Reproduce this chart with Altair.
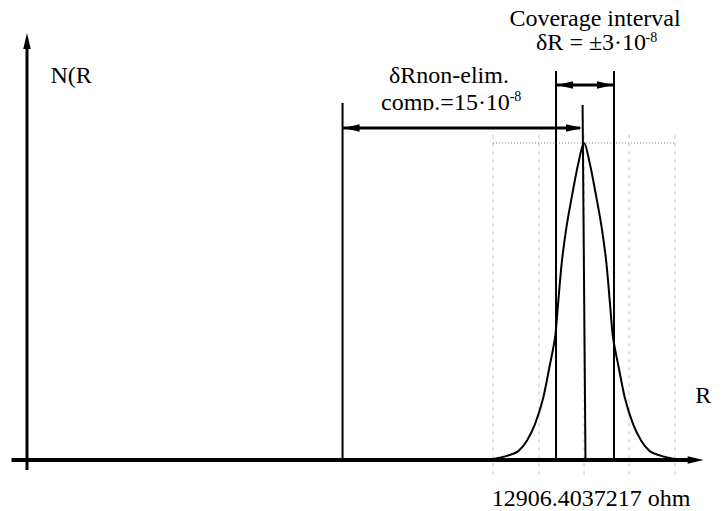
import altair as alt
import pandas as pd

# Schematic: x in units of 1e-8 relative deviation from the central value, y = relative density N(R)
X_DOMAIN = [-35.78, 8.01]
Y_DOMAIN = [-0.1609, 1.4259]

# distribution curve
curve_x = [-5.65, -4.80, -4.08, -3.56, -3.04, -2.53, -2.11, -1.91, -1.78, -1.60, -1.39, -1.12, -0.76, -0.35, 0.0,
           0.35, 0.76, 1.12, 1.39, 1.60, 1.78, 1.91, 2.11, 2.53, 3.04, 3.56, 4.08, 4.80, 5.65]
curve_y = [0.003, 0.013, 0.028, 0.060, 0.114, 0.197, 0.303, 0.354, 0.394, 0.500, 0.620, 0.725, 0.830, 0.937, 1.000,
           0.937, 0.830, 0.725, 0.620, 0.500, 0.394, 0.354, 0.303, 0.197, 0.114, 0.060, 0.028, 0.013, 0.003]

# solid segments: marker lines, arrow shafts, axes
seg_x = [-15.0, -1.74, 1.86, -0.09, -15.0, -1.74, -35.56, -34.60]
seg_x2 = [-15.0, -1.74, 1.86, 0.09, -0.25, 1.86, 6.71, -34.60]
seg_y = [0.0, 0.0, 0.0, 1.12, 1.047, 1.183, 0.0, -0.0315]
seg_y2 = [1.126, 1.227, 1.227, 0.0, 1.047, 1.183, 0.0, 1.309]
seg_w = [2, 2, 2, 2, 3, 3, 4, 3]

# arrow heads
head_x = [-34.60, 6.93, -14.44, -0.62, -1.18, 1.30]
head_y = [1.322, 0.0, 1.047, 1.047, 1.183, 1.183]
head_angle = [0, 90, 270, 90, 270, 90]

# dashed grid of the histogram window
grid_x = [-5.65, -2.80, 0.0, 2.80, 5.65]
grid_y0, grid_y1 = -0.047, 1.03
dot_y = [1.0, 0.003]
dot_x0, dot_x1 = -5.65, 5.65

# labels
left_text = ["δR = ±3·10", "comp.=15·10", "N(R", "R"]
left_x = [-2.98, -12.61, -33.14, 6.90]
left_y = [1.293, 1.104, 1.189, 0.180]
center_text = ["Coverage interval", "δRnon-elim.", "12906.4037217 ohm"]
center_x = [0.683, -8.39, 0.435]
center_y = [1.369, 1.189, -0.145]
sup_text = ["-8", "-8"]
sup_x = [3.82, -4.62]
sup_y = [1.319, 1.133]

xs = alt.Scale(domain=X_DOMAIN, nice=False, zero=False)
ys = alt.Scale(domain=Y_DOMAIN, nice=False, zero=False)
FONT = "Liberation Serif"

grid_df = pd.DataFrame({"x": grid_x, "y": [grid_y0] * 5, "y2": [grid_y1] * 5})
grid = alt.Chart(grid_df).mark_rule(color="#c8c8c8", strokeWidth=1, strokeDash=[4, 4]).encode(
    x=alt.X("x:Q", scale=xs, axis=None),
    y=alt.Y("y:Q", scale=ys, axis=None),
    y2="y2:Q",
)

dot_df = pd.DataFrame({"x": [dot_x0] * 2, "x2": [dot_x1] * 2, "y": dot_y})
dots = alt.Chart(dot_df).mark_rule(color="#808080", strokeWidth=1, strokeDash=[1, 2]).encode(
    x=alt.X("x:Q", scale=xs, axis=None),
    x2="x2:Q",
    y=alt.Y("y:Q", scale=ys, axis=None),
)

curve_df = pd.DataFrame({"x": curve_x, "y": curve_y})
curve = alt.Chart(curve_df).mark_line(color="black", strokeWidth=2, interpolate="monotone").encode(
    x=alt.X("x:Q", scale=xs, axis=None),
    y=alt.Y("y:Q", scale=ys, axis=None),
)

seg_df = pd.DataFrame({"x": seg_x, "x2": seg_x2, "y": seg_y, "y2": seg_y2, "w": seg_w})
segs = alt.Chart(seg_df).mark_rule(color="black").encode(
    x=alt.X("x:Q", scale=xs, axis=None),
    x2="x2:Q",
    y=alt.Y("y:Q", scale=ys, axis=None),
    y2="y2:Q",
    strokeWidth=alt.StrokeWidth("w:Q", scale=None),
)

head_df = pd.DataFrame({"x": head_x, "y": head_y, "a": head_angle})
heads = alt.Chart(head_df).mark_point(
    shape="M0,-1L0.47,1L-0.47,1Z", filled=True, color="black", size=256, opacity=1, strokeWidth=0
).encode(
    x=alt.X("x:Q", scale=xs, axis=None),
    y=alt.Y("y:Q", scale=ys, axis=None),
    angle=alt.Angle("a:Q", scale=None),
)

mask_df = pd.DataFrame({"x": [-12.80], "x2": [-3.85], "y": [1.079], "y2": [1.1025]})
mask = alt.Chart(mask_df).mark_rect(color="white").encode(
    x=alt.X("x:Q", scale=xs, axis=None),
    x2="x2:Q",
    y=alt.Y("y:Q", scale=ys, axis=None),
    y2="y2:Q",
)

lt_df = pd.DataFrame({"t": left_text, "x": left_x, "y": left_y})
lt = alt.Chart(lt_df).mark_text(font=FONT, fontSize=24, align="left", baseline="alphabetic", color="black").encode(
    x=alt.X("x:Q", scale=xs, axis=None),
    y=alt.Y("y:Q", scale=ys, axis=None),
    text="t:N",
)

ct_df = pd.DataFrame({"t": center_text, "x": center_x, "y": center_y})
ct = alt.Chart(ct_df).mark_text(font=FONT, fontSize=24, align="center", baseline="alphabetic", color="black").encode(
    x=alt.X("x:Q", scale=xs, axis=None),
    y=alt.Y("y:Q", scale=ys, axis=None),
    text="t:N",
)

st_df = pd.DataFrame({"t": sup_text, "x": sup_x, "y": sup_y})
st = alt.Chart(st_df).mark_text(font=FONT, fontSize=14, align="left", baseline="alphabetic", color="black").encode(
    x=alt.X("x:Q", scale=xs, axis=None),
    y=alt.Y("y:Q", scale=ys, axis=None),
    text="t:N",
)

chart = alt.layer(grid, dots, curve, segs, heads, lt, mask, ct, st).properties(
    width=705, height=503, autosize=alt.AutoSizeParams(type="none"), padding=0, background="white"
).configure_view(stroke=None)

chart.save("out.html", embed_options={"renderer": "svg", "actions": False})
